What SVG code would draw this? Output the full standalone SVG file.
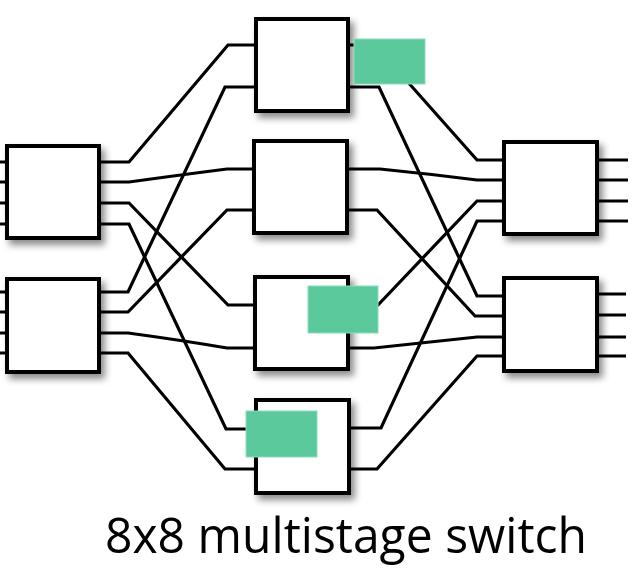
<svg xmlns="http://www.w3.org/2000/svg" width="632" height="568" viewBox="0 0 632 568">
<defs>
<filter id="sh" x="-20%" y="-20%" width="150%" height="150%">
<feDropShadow dx="4" dy="5" stdDeviation="3.5" flood-color="#000" flood-opacity="0.45"/>
</filter>
</defs>
<style>
.box{fill:#fff;stroke:#000;stroke-width:4;filter:url(#sh)}
.w{fill:none;stroke:#000;stroke-width:3.2;stroke-linejoin:miter}
.g{fill:#5BC99B;stroke:#8BDDBB;stroke-width:1}
.t{font-family:"Open Sans","Noto Sans",sans-serif;font-size:48.5px;fill:#000}
</style>
<g id="connectors">
<!-- left inputs -->
<path class="w" d="M0 162H7M0 182H7M0 203H7M0 224H7M0 292H7M0 312H7M0 333H7M0 353H7"/>
<!-- right outputs -->
<path class="w" d="M597 160H628M597 180H628M597 201H628M597 221H628M597 294H626M597 315H626M597 337H626M597 356H626"/>
<!-- stage 1 to stage 2 -->
<path class="w" d="M99 162H129L228 45H255"/>
<path class="w" d="M99 182H129Q180 175 227 169H253"/>
<path class="w" d="M99 203H129L228 305H254"/>
<path class="w" d="M99 224H129L226 429H255"/>
<path class="w" d="M99 292H128L225 87H255"/>
<path class="w" d="M99 312H128L227 210H253"/>
<path class="w" d="M99 333H128Q180 340 227 348H254"/>
<path class="w" d="M99 353H128L225 469H255"/>
<!-- stage 2 to stage 3 -->
<path class="w" d="M348 45H375L477 160H504"/>
<path class="w" d="M348 87H379L477 296H504"/>
<path class="w" d="M347 169H380Q430 174 477 180H504"/>
<path class="w" d="M347 210H377L475 316H504"/>
<path class="w" d="M348 305H378L477 201H504"/>
<path class="w" d="M348 348H374Q430 342 477 337H504"/>
<path class="w" d="M349 428H381L477 221H504"/>
<path class="w" d="M349 469H377L477 356H504"/>
</g>
<g id="L1"><rect class="box" x="7" y="146" width="92" height="92"/></g>
<g id="L2"><rect class="box" x="7" y="279" width="92" height="93"/></g>
<g id="M1"><rect class="box" x="256" y="19" width="92" height="92"/></g>
<g id="M2"><rect class="box" x="254" y="141" width="93" height="92"/></g>
<g id="M3"><rect class="box" x="255" y="277" width="93" height="92"/></g>
<g id="M4"><rect class="box" x="256" y="400" width="93" height="93"/></g>
<g id="R1"><rect class="box" x="504" y="142" width="93" height="92"/></g>
<g id="R2"><rect class="box" x="504" y="278" width="93" height="93"/></g>
<g id="G1"><rect class="g" x="354" y="39" width="71" height="45"/></g>
<g id="G2"><rect class="g" x="308" y="286" width="70" height="47"/></g>
<g id="G3"><rect class="g" x="246" y="411" width="71" height="46"/></g>
<g id="label"><text class="t" x="105" y="553" textLength="482" lengthAdjust="spacingAndGlyphs">8x8 multistage switch</text></g>
</svg>
